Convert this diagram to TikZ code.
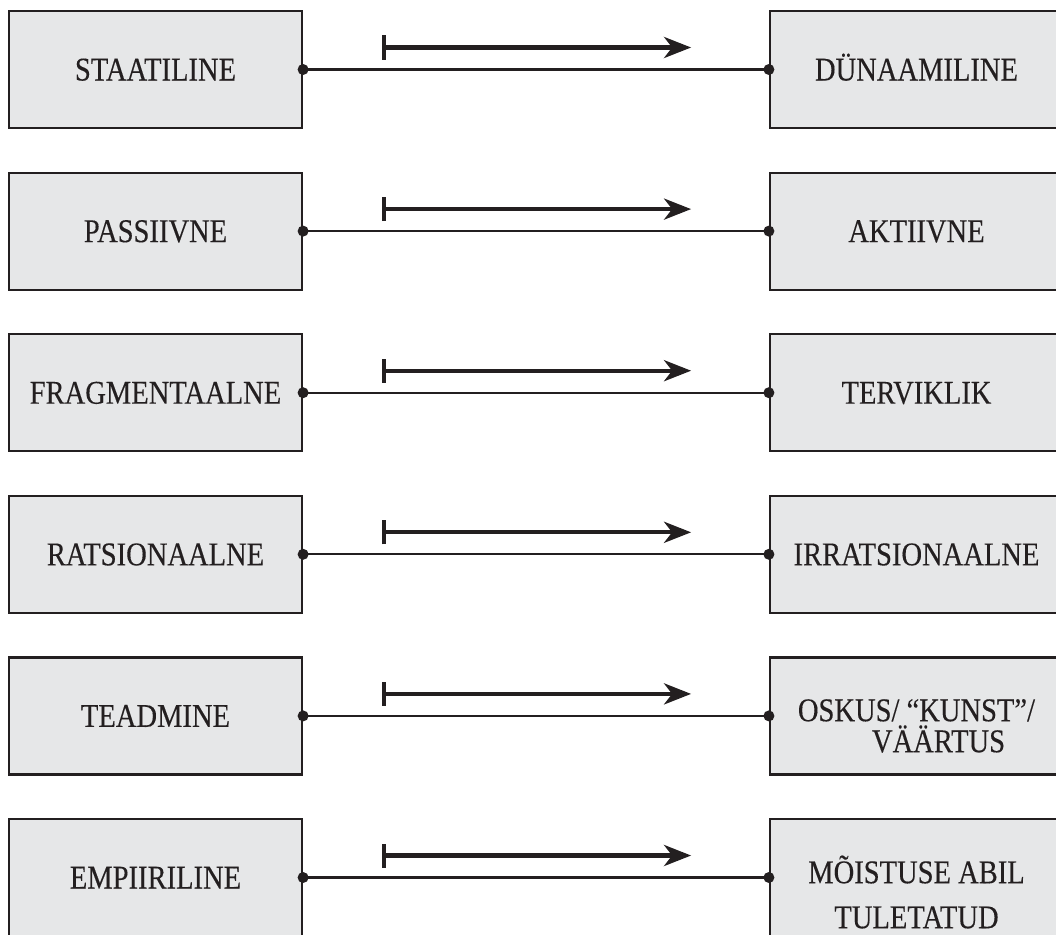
\documentclass[tikz,border=0pt]{standalone}
\usepackage{fontspec}
\setmainfont[FakeStretch=0.86,FakeBold=0.25]{Liberation Serif}
\usetikzlibrary{arrows.meta,calc}
\definecolor{ink}{HTML}{231F20}
\definecolor{boxfill}{HTML}{E6E7E8}
\begin{document}
\begin{tikzpicture}[x=1pt,y=-1pt,
  box/.style={draw=ink, fill=boxfill, line width=2.2pt, minimum width=293pt,
    minimum height=117pt, inner sep=0pt, text=ink,
    font=\fontsize{33.2}{40}\selectfont, text height=22pt, text depth=0pt},
  multi/.style={text=ink, align=center, inner sep=0pt,
    font=\fontsize{33.2}{#1}\selectfont},
  link/.style={draw=ink, line width=2.2pt},
  dirarrow/.style={draw=ink, line width=4.2pt,
    {Bar[width=24pt]}-{Stealth[length=27pt,width=21pt,inset=8pt]}},
  dot/.style={fill=ink}]
\useasboundingbox (0,0) rectangle (1056,934);

% left column
\node[box] (L1) at (155.5,69.5)  {STAATILINE};
\node[box] (L2) at (155.5,231.1) {PASSIIVNE};
\node[box] (L3) at (155.5,392.7) {FRAGMENTAALNE};
\node[box] (L4) at (155.5,554.3) {RATSIONAALNE};
\node[box] (L5) at (155.5,715.9) {TEADMINE};
\node[box] (L6) at (155.5,877.5) {EMPIIRILINE};

% right column
\node[box] (R1) at (916.5,69.5)  {DÜNAAMILINE};
\node[box] (R2) at (916.5,231.1) {AKTIIVNE};
\node[box] (R3) at (916.5,392.7) {TERVIKLIK};
\node[box] (R4) at (916.5,554.3) {IRRATSIONAALNE};
\node[box] (R5) at (916.5,715.9) {};
\node[box] (R6) at (916.5,877.5) {};
\node[multi=31pt] (R5t) at ($(R5.center)+(0,10)$)
  {OSKUS/ “KUNST”/\\\hspace*{44pt}VÄÄRTUS};
\node[multi=45pt] (R6t) at ($(R6.center)+(0,14.5)$)
  {MÕISTUSE ABIL\\TULETATUD};

% links, end dots and direction arrows
\foreach \i in {1,...,6}{
  \draw[link] (L\i.east) -- (R\i.west);
  \fill[dot] (L\i.east) circle (5.5pt);
  \fill[dot] (R\i.west) circle (5.5pt);
  \coordinate (s\i) at ($(L\i.east)+(79,-22)$);
  \coordinate (e\i) at ($(L\i.east)+(388,-22)$);
  \draw[dirarrow] (s\i) -- (e\i);
}
\end{tikzpicture}
\end{document}
